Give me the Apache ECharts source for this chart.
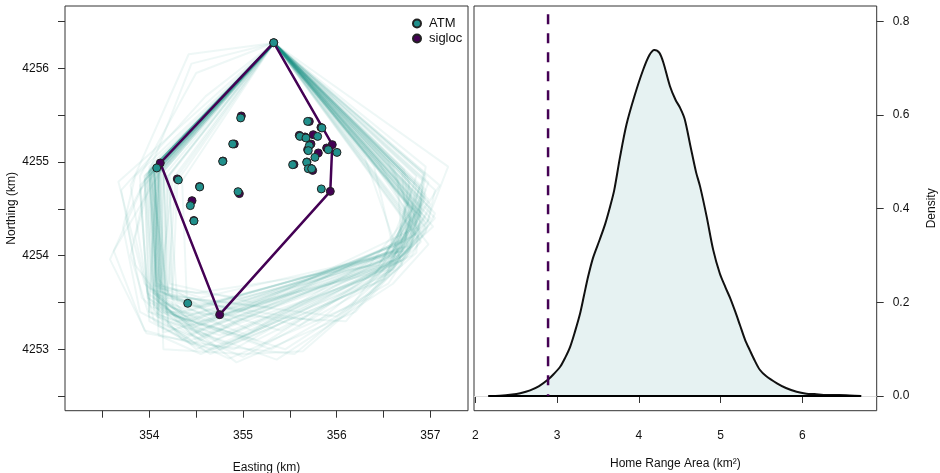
<!DOCTYPE html>
<html>
<head>
<meta charset="utf-8">
<title>Home range: ATM vs sigloc</title>
<script src="https://cdn.jsdelivr.net/npm/echarts@6/dist/echarts.min.js"></script>
<style>
  html, body { margin: 0; padding: 0; background: #fff; }
  #chart { width: 940px; height: 473px; }
</style>
</head>
<body>
<div id="chart"></div>
<script>
// ---- Locations (km, UTM) ----
const siglocEasting = [355.328, 354.117, 354.299, 354.536, 354.456, 354.475, 354.751, 354.786, 354.907, 354.982, 354.961, 355.544, 355.708, 355.832, 355.601, 355.662, 355.750, 355.726, 355.953, 355.690, 355.893, 355.804, 355.683, 355.715, 355.744, 355.932];
const siglocNorthing = [4256.273, 4254.989, 4254.819, 4254.738, 4254.587, 4254.375, 4253.370, 4255.010, 4255.192, 4255.491, 4254.662, 4254.974, 4255.433, 4255.369, 4255.284, 4255.267, 4255.291, 4255.192, 4255.185, 4255.131, 4255.149, 4255.096, 4255.000, 4254.936, 4254.910, 4254.686];
const atmEasting = [355.328, 354.079, 354.310, 354.538, 354.438, 354.477, 354.410, 354.783, 354.890, 354.975, 354.947, 355.530, 355.690, 355.843, 355.608, 355.672, 355.797, 355.708, 356.003, 355.697, 355.910, 355.768, 355.680, 355.697, 355.733, 355.836];
const atmNorthing = [4256.273, 4254.936, 4254.808, 4254.733, 4254.534, 4254.370, 4253.491, 4255.006, 4255.192, 4255.470, 4254.683, 4254.971, 4255.433, 4255.363, 4255.273, 4255.256, 4255.273, 4255.174, 4255.102, 4255.121, 4255.131, 4255.049, 4254.996, 4254.928, 4254.928, 4254.712];
// indices of sigloc locations forming the convex hull
const siglocHullOrder = [0, 18, 25, 6, 1];

// ---- Simulated home-range hulls (vertex lists, km) ----
const HT = [355.33, 4256.27];
const bootHulls = [
  [HT, [354.02, 4254.92], [354.08, 4253.55], [354.55, 4253.25], [356.62, 4254.05], [356.85, 4254.62]],
  [HT, [353.98, 4254.85], [354.05, 4253.40], [354.85, 4253.05], [356.75, 4254.10], [356.95, 4254.70]],
  [HT, [354.05, 4254.95], [354.12, 4253.62], [355.10, 4253.20], [356.88, 4254.25], [356.92, 4254.88]],
  [HT, [353.67, 4254.79], [353.95, 4253.70], [354.40, 4253.35], [356.55, 4253.95], [356.80, 4254.50]],
  [HT, [354.10, 4254.88], [354.15, 4253.18], [356.45, 4253.85], [357.00, 4254.40]],
  [HT, [354.00, 4254.90], [353.58, 4253.96], [353.97, 4253.17], [354.90, 4253.00], [356.70, 4254.00], [357.03, 4254.31]],
  [HT, [354.25, 4254.82], [354.10, 4253.50], [354.93, 4252.86], [356.20, 4253.40], [356.90, 4254.20], [357.19, 4254.95]],
  [HT, [354.05, 4254.90], [354.20, 4253.30], [355.36, 4252.89], [356.60, 4253.70], [356.98, 4254.12]],
  [HT, [354.42, 4256.15], [353.80, 4254.75], [354.00, 4253.50], [354.60, 4253.20], [356.70, 4254.15], [356.94, 4254.88]],
  [HT, [354.08, 4254.93], [354.15, 4253.00], [355.00, 4252.95], [355.64, 4252.98], [356.85, 4254.03], [356.90, 4254.60]],
  [HT, [354.00, 4254.85], [354.05, 4253.60], [354.50, 4253.10], [356.50, 4253.95], [356.75, 4254.55]],
  [HT, [354.12, 4254.95], [354.10, 4253.75], [354.35, 4253.40], [356.65, 4254.05], [356.92, 4254.51]],
  [HT, [353.90, 4254.70], [354.00, 4253.40], [354.75, 4253.15], [356.40, 4253.80], [356.80, 4254.30], [356.88, 4254.75]],
  [HT, [354.15, 4254.90], [354.20, 4253.55], [355.40, 4253.20], [356.60, 4253.85], [356.95, 4254.40]],
  [HT, [354.05, 4254.95], [353.85, 4254.20], [354.05, 4253.30], [354.45, 4253.05], [356.75, 4254.20], [357.10, 4254.75]],
  [HT, [354.30, 4254.80], [354.25, 4253.65], [354.70, 4253.35], [356.55, 4253.90], [356.85, 4254.45]],
  [HT, [354.02, 4254.88], [354.12, 4253.45], [355.20, 4253.05], [356.78, 4254.05], [356.90, 4254.70]],
  [HT, [353.95, 4254.80], [354.00, 4253.65], [354.60, 4253.45], [356.35, 4253.90], [356.70, 4254.35], [356.78, 4254.80]],
  [HT, [354.10, 4254.92], [354.18, 4253.40], [356.10, 4253.30], [356.95, 4254.30]],
  [HT, [354.00, 4254.90], [353.75, 4254.40], [353.92, 4253.55], [354.50, 4253.00], [356.60, 4253.95], [356.88, 4254.60]],
  [HT, [354.20, 4254.85], [354.30, 4253.50], [354.80, 4253.25], [356.70, 4253.95], [357.00, 4254.55]],
  [HT, [354.05, 4254.90], [354.08, 4253.35], [354.65, 4252.95], [356.50, 4253.75], [356.90, 4254.25]],
  [HT, [354.00, 4254.95], [354.20, 4253.60], [355.60, 4253.25], [356.80, 4254.10], [356.95, 4254.85]],
  [HT, [354.60, 4255.70], [353.70, 4254.70], [353.85, 4253.90], [354.30, 4253.30], [356.55, 4253.85], [356.80, 4254.70]],
  [HT, [354.10, 4254.88], [354.12, 4253.55], [354.40, 4253.30], [356.62, 4254.00], [356.85, 4254.45]],
  [HT, [354.03, 4254.93], [354.10, 4253.25], [354.85, 4252.90], [356.35, 4253.55], [356.90, 4254.15]],
  [HT, [354.15, 4254.92], [354.22, 4253.70], [355.10, 4253.50], [356.60, 4254.10], [356.92, 4254.80]],
  [HT, [353.95, 4254.85], [354.05, 4253.45], [354.55, 4253.15], [356.45, 4253.90], [356.75, 4254.40]],
  [HT, [354.08, 4254.90], [354.00, 4253.55], [354.35, 4253.10], [356.85, 4254.30], [356.95, 4254.95]],
  [HT, [354.05, 4254.95], [354.15, 4253.60], [354.50, 4253.45], [356.70, 4254.05], [356.82, 4254.55]],
  [HT, [354.35, 4254.80], [354.40, 4253.55], [356.00, 4253.35], [356.75, 4254.00], [356.90, 4254.40]],
  [HT, [354.00, 4254.88], [354.05, 4253.50], [354.70, 4253.10], [356.60, 4253.90], [356.98, 4254.60]],
  [HT, [354.12, 4254.95], [354.18, 4253.40], [355.30, 4253.00], [356.55, 4253.70], [356.88, 4254.20]],
  [HT, [353.90, 4254.75], [353.98, 4253.60], [354.45, 4253.25], [356.65, 4254.00], [356.92, 4254.70]],
  [HT, [354.45, 4256.05], [354.00, 4254.90], [354.10, 4253.50], [354.60, 4253.30], [356.72, 4254.10], [356.85, 4254.75]],
  [HT, [354.05, 4254.92], [354.12, 4253.65], [354.95, 4253.40], [356.50, 4253.95], [356.80, 4254.50]],
  [HT, [354.10, 4254.90], [354.10, 4253.35], [354.80, 4253.05], [356.80, 4254.00], [357.05, 4254.45]],
  [HT, [354.00, 4254.85], [354.08, 4253.60], [354.40, 4253.40], [356.60, 4254.05], [356.78, 4254.65]],
  [HT, [354.18, 4254.88], [354.25, 4253.45], [355.05, 4253.15], [356.70, 4253.95], [356.95, 4254.35]],
  [HT, [354.02, 4254.93], [354.05, 4253.55], [354.50, 4253.20], [356.58, 4253.92], [356.88, 4254.55]],
  [HT, [354.06, 4254.94], [354.10, 4253.45], [354.60, 4253.05], [355.55, 4252.95], [356.70, 4253.90], [356.30, 4255.05]],
  [HT, [354.10, 4254.90], [354.05, 4253.60], [354.45, 4253.30], [356.60, 4254.10], [356.40, 4254.95]],
  [HT, [353.85, 4254.85], [353.72, 4254.30], [353.90, 4253.40], [354.45, 4253.10], [356.45, 4253.80], [356.85, 4254.30], [356.75, 4254.85]],
  [HT, [354.20, 4254.85], [354.15, 4253.40], [355.45, 4253.00], [356.15, 4253.45], [356.82, 4254.35], [356.60, 4254.95]],
  [HT, [354.00, 4254.92], [354.08, 4253.70], [354.55, 4253.55], [356.50, 4254.00], [356.95, 4254.60]],
  [HT, [354.12, 4254.90], [353.62, 4254.05], [353.95, 4253.20], [354.70, 4253.00], [356.60, 4253.85], [356.90, 4254.45]],
  [HT, [354.05, 4254.95], [354.15, 4253.50], [354.90, 4253.30], [356.65, 4254.15], [356.85, 4254.85]],
  [HT, [354.00, 4254.88], [354.10, 4253.15], [354.55, 4252.95], [356.55, 4253.80], [356.92, 4254.40]],
  [HT, [354.28, 4254.82], [354.20, 4253.60], [354.65, 4253.40], [356.75, 4254.10], [356.70, 4254.90]],
  [HT, [354.08, 4254.95], [354.00, 4253.40], [354.75, 4253.00], [356.40, 4253.70], [356.95, 4254.25], [357.05, 4254.70]],
  [HT, [354.04, 4254.90], [354.12, 4253.58], [355.30, 4253.45], [356.70, 4254.05], [356.65, 4254.80]],
  [HT, [354.50, 4255.95], [353.90, 4254.85], [353.98, 4253.55], [354.50, 4253.25], [356.60, 4253.95], [356.80, 4254.60]],
  [HT, [354.10, 4254.93], [354.05, 4253.45], [354.85, 4253.15], [356.55, 4253.85], [356.88, 4254.30], [356.55, 4255.00]],
  [HT, [353.97, 4254.87], [354.02, 4253.62], [354.38, 4253.35], [356.68, 4254.05], [356.93, 4254.62]],
  [HT, [354.15, 4254.90], [354.20, 4253.25], [355.00, 4252.92], [356.50, 4253.75], [356.90, 4254.50]],
  [HT, [354.06, 4254.92], [354.10, 4253.65], [355.00, 4253.55], [356.58, 4254.00], [356.78, 4254.40], [356.45, 4255.00]],
  [HT, [354.00, 4254.90], [353.80, 4254.00], [354.00, 4253.35], [354.40, 4253.15], [356.62, 4253.95], [357.00, 4254.50]],
  [HT, [354.12, 4254.94], [354.15, 4253.50], [354.55, 4253.30], [356.72, 4254.15], [356.98, 4254.78]],
  [HT, [354.05, 4254.88], [354.10, 4253.40], [355.15, 4253.10], [356.35, 4253.70], [356.85, 4254.20]],
  [HT, [354.22, 4254.86], [354.25, 4253.58], [354.70, 4253.50], [356.62, 4254.05], [356.86, 4254.48]],
  [HT, [354.03, 4254.93], [354.08, 4253.52], [354.45, 4253.22], [356.80, 4254.20], [356.72, 4254.92]],
  [HT, [354.10, 4254.88], [354.05, 4253.68], [354.50, 4253.60], [356.45, 4253.90], [356.85, 4254.55]],
  [HT, [353.95, 4254.85], [354.00, 4253.30], [354.60, 4252.98], [356.65, 4253.95], [357.05, 4254.40]],
  [HT, [354.08, 4254.92], [354.18, 4253.55], [355.80, 4253.30], [356.75, 4254.05], [356.95, 4254.65]],
  [HT, [354.15, 4254.90], [354.12, 4253.62], [354.45, 4253.45], [356.55, 4254.00], [356.80, 4254.40], [356.35, 4255.05]]
];

// ---- Density of simulated home-range areas (km^2) ----
const areaX = [2.16, 2.30, 2.45, 2.55, 2.67, 2.78, 2.89, 2.96, 3.04, 3.10, 3.16, 3.22, 3.28, 3.33, 3.38, 3.44, 3.52, 3.59, 3.65, 3.70, 3.77, 3.85, 3.95, 4.05, 4.13, 4.19, 4.25, 4.30, 4.38, 4.45, 4.50, 4.56, 4.63, 4.70, 4.75, 4.83, 4.91, 4.99, 5.06, 5.12, 5.18, 5.24, 5.30, 5.36, 5.42, 5.48, 5.56, 5.69, 5.80, 5.93, 6.05, 6.15, 6.30, 6.45, 6.58, 6.72];
const areaDensity = [0, 0.0005, 0.003, 0.006, 0.012, 0.021, 0.035, 0.047, 0.063, 0.082, 0.105, 0.138, 0.175, 0.215, 0.255, 0.295, 0.333, 0.368, 0.405, 0.440, 0.510, 0.580, 0.642, 0.695, 0.728, 0.739, 0.733, 0.712, 0.662, 0.632, 0.617, 0.592, 0.535, 0.478, 0.447, 0.383, 0.312, 0.262, 0.232, 0.208, 0.180, 0.150, 0.120, 0.097, 0.075, 0.056, 0.042, 0.027, 0.017, 0.009, 0.005, 0.004, 0.002, 0.002, 0.001, 0];
const siglocArea = 2.89;      // area of the sigloc convex hull
const siglocLineTop = 0.815;  // height of the reference segment

// ---- Axis ticks ----
const eastTicks = [353.5, 354, 354.5, 355, 355.5, 356, 356.5, 357];
const eastLabels = [354, 355, 356, 357];
const northTicks = [4252.5, 4253, 4253.5, 4254, 4254.5, 4255, 4255.5, 4256, 4256.5];
const northLabels = [4253, 4254, 4255, 4256];
const areaTicks = [2, 3, 4, 5, 6];
const densityTicks = [0, 0.2, 0.4, 0.6, 0.8];

const TEAL = '#21908C';
const PURPLE = '#440154';
const FONT = "'Liberation Sans', Arial, Helvetica, sans-serif";

const chart = echarts.init(document.getElementById('chart'), null, { renderer: 'canvas' });

const tickStyle = { show: true, length: 7, lineStyle: { color: '#333', width: 1 } };
const labelStyle = { color: '#111', fontSize: 12, fontFamily: FONT };
const nameStyle = { color: '#111', fontSize: 12, fontFamily: FONT };

const series = [];

// simulated hulls
bootHulls.forEach((hull, i) => {
  series.push({
    type: 'line',
    name: 'hull' + i,
    xAxisIndex: 0, yAxisIndex: 0,
    data: hull.concat([hull[0]]),
    showSymbol: false,
    silent: true,
    animation: false,
    lineStyle: { color: 'rgba(33,144,140,0.075)', width: 2 },
    z: 1
  });
});

// sigloc convex hull
series.push({
  type: 'line',
  name: 'sigloc hull',
  xAxisIndex: 0, yAxisIndex: 0,
  data: siglocHullOrder.concat([siglocHullOrder[0]]).map(i => [siglocEasting[i], siglocNorthing[i]]),
  showSymbol: false,
  animation: false,
  lineStyle: { color: PURPLE, width: 2.5 },
  z: 3
});

series.push({
  type: 'scatter',
  name: 'sigloc',
  xAxisIndex: 0, yAxisIndex: 0,
  data: siglocEasting.map((e, i) => [e, siglocNorthing[i]]),
  symbolSize: 8,
  animation: false,
  itemStyle: { color: PURPLE, borderColor: '#222', borderWidth: 1, opacity: 1 },
  z: 4
});

series.push({
  type: 'scatter',
  name: 'ATM',
  xAxisIndex: 0, yAxisIndex: 0,
  data: atmEasting.map((e, i) => [e, atmNorthing[i]]),
  symbolSize: 8,
  animation: false,
  itemStyle: { color: TEAL, borderColor: '#222', borderWidth: 1, opacity: 1 },
  z: 5
});

// density panel
series.push({
  type: 'line',
  name: 'density',
  xAxisIndex: 1, yAxisIndex: 1,
  data: areaX.map((x, i) => [x, areaDensity[i]]),
  showSymbol: false,
  smooth: 0.3,
  animation: false,
  lineStyle: { color: '#111', width: 2 },
  areaStyle: { color: 'rgba(33,144,140,0.16)', origin: 0 },
  markLine: {
    silent: true,
    symbol: 'none',
    label: { show: false },
    lineStyle: { color: '#ddd', width: 1, type: 'solid' },
    data: [{ yAxis: 0 }],
    z: 1
  },
  z: 2
});

series.push({
  type: 'line',
  name: 'density base',
  xAxisIndex: 1, yAxisIndex: 1,
  data: [[areaX[0], 0], [areaX[areaX.length - 1], 0]],
  showSymbol: false,
  animation: false,
  lineStyle: { color: '#000', width: 2 },
  z: 10
});

series.push({
  type: 'line',
  name: 'sigloc area',
  xAxisIndex: 1, yAxisIndex: 1,
  data: [[siglocArea, siglocLineTop], [siglocArea, 0]],
  showSymbol: false,
  animation: false,
  lineStyle: { color: PURPLE, width: 2.5, type: [10, 9] },
  z: 11
});

chart.setOption({
  backgroundColor: '#fff',
  animation: false,
  textStyle: { fontFamily: FONT },
  grid: [
    { left: 65, top: 6, width: 403, height: 404.7, show: true, borderColor: '#333', borderWidth: 1, backgroundColor: 'transparent', containLabel: false, outerBoundsMode: 'none' },
    { left: 474, top: 6, width: 402.7, height: 404.7, show: true, borderColor: '#333', borderWidth: 1, backgroundColor: 'transparent', containLabel: false, outerBoundsMode: 'none' }
  ],
  legend: {
    data: ['ATM', 'sigloc'],
    orient: 'vertical',
    left: 407,
    top: 12,
    itemWidth: 8,
    itemHeight: 8,
    itemGap: 2,
    icon: 'circle',
    textStyle: { color: '#111', fontSize: 13, fontFamily: FONT, padding: [0, 0, 0, 3] },
    selectedMode: false
  },
  xAxis: [
    {
      type: 'value', gridIndex: 0, min: 353.1, max: 357.402,
      name: 'Easting (km)', nameLocation: 'middle', nameGap: 51, nameTextStyle: nameStyle,
      axisLine: { show: false },
      axisTick: Object.assign({ customValues: eastTicks }, tickStyle),
      axisLabel: Object.assign({ customValues: eastLabels, margin: 19, formatter: v => String(v) }, labelStyle),
      splitLine: { show: false }
    },
    {
      type: 'value', gridIndex: 1, min: 1.984, max: 6.91,
      name: 'Home Range Area (km²)', nameLocation: 'middle', nameGap: 47, nameTextStyle: nameStyle,
      axisLine: { show: false },
      axisTick: Object.assign({ customValues: areaTicks }, tickStyle),
      axisLabel: Object.assign({ customValues: areaTicks, margin: 19, formatter: v => String(v) }, labelStyle),
      splitLine: { show: false }
    }
  ],
  yAxis: [
    {
      type: 'value', gridIndex: 0, min: 4252.3445, max: 4256.665,
      name: 'Northing (km)', nameLocation: 'middle', nameGap: 47, nameRotate: 90, nameTextStyle: nameStyle,
      axisLine: { show: false },
      axisTick: Object.assign({ customValues: northTicks }, tickStyle),
      axisLabel: Object.assign({ customValues: northLabels, margin: 16, formatter: v => String(v) }, labelStyle),
      splitLine: { show: false }
    },
    {
      type: 'value', gridIndex: 1, position: 'right', min: -0.0314, max: 0.8327,
      name: 'Density', nameLocation: 'middle', nameGap: 49, nameRotate: 90, nameTextStyle: nameStyle,
      axisLine: { show: false },
      axisTick: Object.assign({ customValues: densityTicks }, tickStyle),
      axisLabel: Object.assign({ customValues: densityTicks, margin: 16, formatter: v => v.toFixed(1) }, labelStyle),
      splitLine: { show: false }
    }
  ],
  series: series
});
</script>
</body>
</html>
